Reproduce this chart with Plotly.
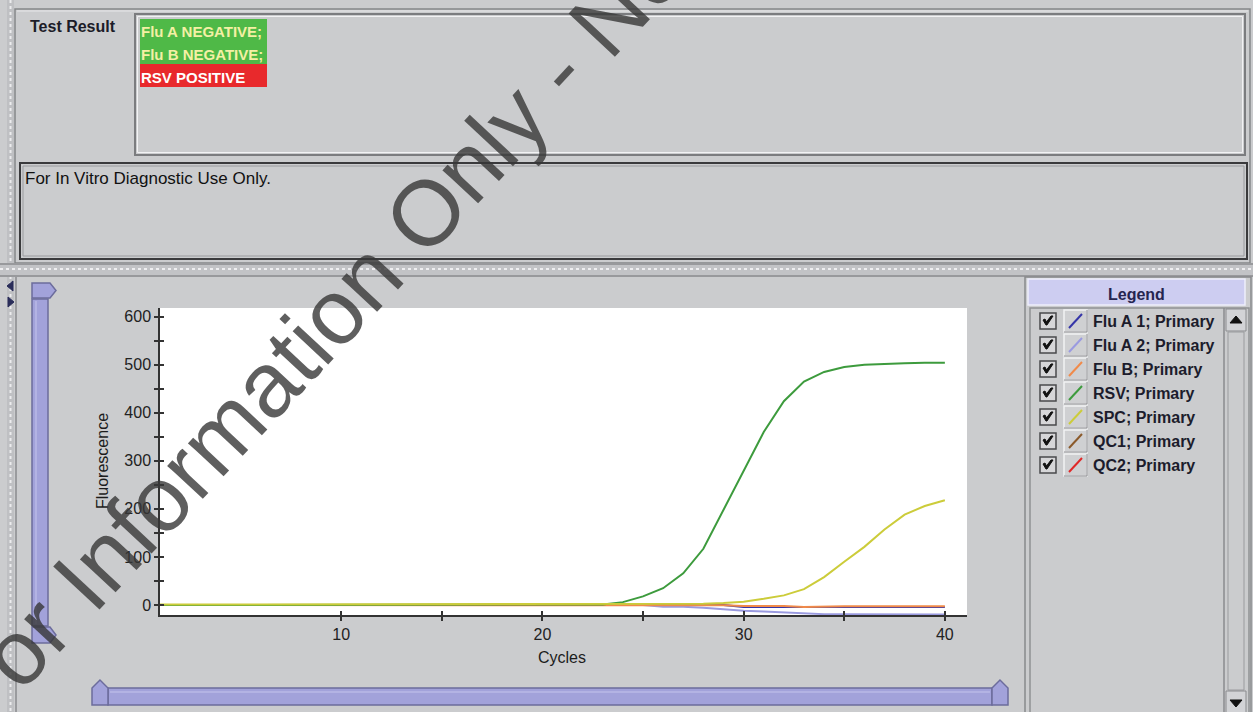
import plotly.graph_objects as go

# ---------------- data ----------------
cycles = list(range(1, 41))

flu_a1 = [0, 0, 0, 0, 0, 0, 0, 0, 0, 0,
          0, 0, 0, 0, 0, 0, 0, 0, 0, 0,
          0, 0, 0, 0, 0, 0, 0, 0, 0, -4,
          -4, -4, -4.5, -4, -4, -4, -4, -4, -4, -4]
flu_a2 = [0, 0, 0, 0, 0, 0, 0, 0, 0, 0,
          0, 0, 0, 0, 0, 0, 0, 0, 0, 0,
          0, 0, 0, 0, 0, -3.5, -3.5, -5.5, -9, -12,
          -13.5, -15, -18, -19, -19, -19, -19, -19.5, -19.5, -19.5]
flu_b = [0, 0, 0, 0, 0, 0, 0, 0, 0, 0,
         0, 0, 0, 0, 0, 0, 0, 0, 0, 0,
         0, 0, 0, 0, 0, 0, 0, -0.5, -0.5, -2,
         -2, -2, -4, -2.5, -2.5, -2.5, -2.5, -2.5, -2.5, -2.5]
rsv = [0, 0, 0, 0, 0, 0, 0, 0, 0, 0,
       0, 0, 0, 0, 0, 0, 0, 0, 0, 0,
       0, 0, 1, 6, 18, 35, 66, 117, 199, 278,
       360, 424, 465, 485, 495, 500, 502, 503, 504, 504]
spc = [1, 1, 1, 1, 1, 1, 1, 1, 1, 1,
       1, 1, 1, 1, 1, 1, 1, 1, 1, 1,
       1, 1, 1, 1, 1, 1, 1, 2.5, 4, 7,
       13, 20, 33, 58, 90, 121, 157, 188, 206, 218]

series_names = ["Flu A 1; Primary", "Flu A 2; Primary", "Flu B; Primary",
                "RSV; Primary", "SPC; Primary", "QC1; Primary", "QC2; Primary"]
series_values = [flu_a1, flu_a2, flu_b, rsv, spc, None, None]
series_colors = ["#3535a8", "#9a9ae0", "#f08a4a", "#3d9b3d", "#cccc3a",
                 "#8b5a2b", "#e02828"]

x_tickvals = [10, 15, 20, 25, 30, 35, 40]
x_ticktext = ["10", "", "20", "", "30", "", "40"]
y_tickvals = [0, 50, 100, 150, 200, 250, 300, 350, 400, 450, 500, 550, 600]
y_ticktext = ["0", "", "100", "", "200", "", "300", "", "400", "", "500", "", "600"]

result_lines = ["Flu A NEGATIVE;", "Flu B NEGATIVE;", "RSV POSITIVE"]
watermark = "For Information Only - Not a Test Report"

# ---------------- layout geometry (pixels) ----------------
FW, FH = 1253, 712
L, R, T, B = 160, 967, 308, 615
W, H = R - L, B - T


def X(px):
    return (px - L) / W


def Y(py):
    return (B - py) / H


FONT = "Liberation Sans, Arial, sans-serif"
BG = "#cbccce"
LAV = "#a2a2da"
LAV_LINE = "#6c6c9c"

shapes = []
annotations = []


def rect(x0, y0, x1, y1, fill=None, line=None, lw=1, dash=None):
    d = dict(type="rect", xref="paper", yref="paper",
             x0=X(x0), x1=X(x1), y0=Y(y0), y1=Y(y1), layer="below",
             fillcolor=fill if fill else "rgba(0,0,0,0)",
             line=dict(color=line if line else "rgba(0,0,0,0)", width=lw if line else 0))
    if dash:
        d["line"]["dash"] = dash
    shapes.append(d)


def seg(x0, y0, x1, y1, color, lw=1, dash=None, layer="below"):
    d = dict(type="line", xref="paper", yref="paper",
             x0=X(x0), x1=X(x1), y0=Y(y0), y1=Y(y1), layer=layer,
             line=dict(color=color, width=lw))
    if dash:
        d["line"]["dash"] = dash
    shapes.append(d)


def poly(pts, fill, line, lw=1, layer="below"):
    p = "M " + " L ".join(f"{X(a):.5f},{Y(b):.5f}" for a, b in pts) + " Z"
    shapes.append(dict(type="path", xref="paper", yref="paper", path=p, layer=layer,
                       fillcolor=fill, line=dict(color=line, width=lw)))


def text(px, py, s, size=14, color="#1a1a24", bold=False, xanchor="left",
         yanchor="middle", angle=0, family=FONT):
    annotations.append(dict(xref="paper", yref="paper", x=X(px), y=Y(py),
                            text=f"<b>{s}</b>" if bold else s, showarrow=False,
                            xanchor=xanchor, yanchor=yanchor, textangle=angle,
                            font=dict(family=family, size=size, color=color)))


# left dotted strip
rect(7, 0, 14, FH, fill="#bfc0c3")
seg(10.5, 0, 10.5, FH, "#ececee", lw=2, dash="dot")

# top panel
rect(15, 9, 1250, 263, line="#858689", lw=1.5)
seg(17, 11, 1248, 11, "#e8e8ea", lw=1)
text(28, 26, "Test Result", size=16, bold=True, color="#1c1c28")

# results box
rect(135, 14, 1245, 155, line="#7b7c7f", lw=2)
rect(137.5, 16.5, 1242.5, 152.5, line="#f2f2f4", lw=1)
rect(140, 19, 267, 64, fill="#4fb947")
rect(140, 64, 267, 87, fill="#e8292c")
text(139, 31, result_lines[0], size=15, bold=True, color="#f4f0a4")
text(139, 54, result_lines[1], size=15, bold=True, color="#f4f0a4")
text(139, 77, result_lines[2], size=15, bold=True, color="#ffffff")

# IVD box
rect(20, 163, 1247, 259, line="#3a3a3c", lw=2)
rect(23, 166, 1244, 256, line="#9a9b9e", lw=1)
text(23, 178, "For In Vitro Diagnostic Use Only.", size=17, color="#111111")

# separator band
rect(0, 263, FW, 277, fill="#c2c3c6")
seg(0, 264, FW, 264, "#8a8b8e", lw=1.5)
seg(0, 269, FW, 269, "#eeeef0", lw=2, dash="dot")
seg(0, 276, FW, 276, "#8a8b8e", lw=1.5)

# lower panel left line
seg(16, 277, 16, FH, "#8a8b8e", lw=1.5)

# small arrows top-left
poly([(7, 286), (13, 281), (13, 291)], "#2a2d5a", "#2a2d5a")
poly([(14, 302), (8, 297), (8, 307)], "#2a2d5a", "#2a2d5a")

# vertical scrollbar (left)
poly([(32, 283), (50, 283), (56, 290.5), (50, 298), (32, 298)], LAV, LAV_LINE, 1.5)
rect(32, 299, 48, 626, fill=LAV, line=LAV_LINE, lw=1.5)
seg(36, 301, 36, 624, "#c4c4ec", lw=1)
poly([(32, 627), (50, 627), (56, 635), (50, 643), (32, 643)], LAV, LAV_LINE, 1.5)

# horizontal scrollbar (bottom)
rect(108, 688, 992, 705, fill=LAV, line=LAV_LINE, lw=1.5)
seg(110, 692, 990, 692, "#c4c4ec", lw=1)
poly([(92, 705), (92, 688), (100, 680), (108, 688), (108, 705)], LAV, LAV_LINE, 1.5)
poly([(992, 705), (992, 688), (1000, 680), (1008, 688), (1008, 705)], LAV, LAV_LINE, 1.5)

# legend panel
rect(1025, 277, 1251, FH + 2, line="#88898c", lw=1.5)
rect(1028, 279, 1245, 305, fill="#cdcdf1", line="#eeeefc", lw=1.5)
text(1136, 294, "Legend", size=16, bold=True, color="#252550", xanchor="center")
rect(1030, 308, 1249, FH + 2, line="#909194", lw=1.5)
seg(1224, 308, 1224, FH, "#8a8b8e", lw=1.5)
# legend scrollbar
rect(1226, 309, 1246, 331, fill="#d2d3d6", line="#8a8b8e", lw=1)
poly([(1230, 323), (1242, 323), (1236, 316)], "#111111", "#111111")
rect(1228, 332, 1244, 690, line="#9a9b9e", lw=1)
rect(1226, 691, 1246, FH + 2, fill="#d2d3d6", line="#8a8b8e", lw=1)
poly([(1230, 700), (1242, 700), (1236, 707)], "#111111", "#111111")

for i, (name, col) in enumerate(zip(series_names, series_colors)):
    cy = 321 + 24 * i
    # checkbox
    rect(1040, cy - 8, 1056, cy + 8, fill="#d6d6d8", line="#4a4a4c", lw=1.5)
    poly([(1043, cy - 1), (1046, cy + 4), (1047, cy + 4), (1053, cy - 5),
          (1051, cy - 5), (1046.5, cy + 1), (1045, cy - 2)], "#111111", "#111111", 1)
    # swatch
    rect(1064, cy - 11, 1087, cy + 11, fill="#cfd0d2", line="#f2f2f4", lw=1.5)
    seg(1064, cy + 11, 1087, cy + 11, "#8a8b8e", lw=1)
    seg(1087, cy - 11, 1087, cy + 11, "#8a8b8e", lw=1)
    seg(1069, cy + 7, 1082, cy - 7, col, lw=2)
    text(1091, cy, name, size=16, bold=True, color="#1c1c2c")

# axis titles
text(102, 461, "Fluorescence", size=16, color="#1c1c1c", xanchor="center", angle=-90)
text(562, 657, "Cycles", size=16, color="#1c1c1c", xanchor="center")

# watermark
annotations.append(dict(xref="paper", yref="paper", x=X(516), y=Y(116),
                        text=watermark, showarrow=False, xanchor="center",
                        yanchor="middle", textangle=-47,
                        font=dict(family=FONT, size=92, color="rgba(55,55,55,0.8)")))

# ---------------- figure ----------------
fig = go.Figure()
for name, vals, col in zip(series_names, series_values, series_colors):
    if vals is None:
        continue
    fig.add_trace(go.Scatter(x=cycles, y=vals, mode="lines", name=name,
                             line=dict(color=col, width=2), hoverinfo="skip"))
# overlay axes to make ticks cross the axis lines
fig.add_trace(go.Scatter(x=[], y=[], xaxis="x2", yaxis="y2", showlegend=False))

axis_font = dict(family=FONT, size=16, color="#222222")
fig.update_layout(
    width=FW, height=FH,
    margin=dict(l=L, r=FW - R, t=T, b=FH - B, pad=0),
    paper_bgcolor=BG, plot_bgcolor="#ffffff",
    showlegend=False,
    xaxis=dict(range=[1, 41.1], tickmode="array", tickvals=x_tickvals, ticktext=x_ticktext,
               ticks="outside", ticklen=4, tickwidth=1.5, tickcolor="#333333",
               showline=True, linecolor="#333333", linewidth=1.5, showgrid=False,
               zeroline=False, tickfont=axis_font, fixedrange=True),
    yaxis=dict(range=[-20.8, 618], tickmode="array", tickvals=y_tickvals, ticktext=y_ticktext,
               ticks="outside", ticklen=4, tickwidth=1.5, tickcolor="#333333",
               showline=True, linecolor="#333333", linewidth=1.5, showgrid=False,
               zeroline=False, tickfont=axis_font, fixedrange=True),
    xaxis2=dict(overlaying="x", anchor="y2", range=[1, 41.1], tickmode="array",
                tickvals=x_tickvals, ticks="inside", ticklen=4, tickwidth=1.5,
                tickcolor="#333333", showticklabels=False, showline=False,
                showgrid=False, zeroline=False, side="bottom", fixedrange=True),
    yaxis2=dict(overlaying="y", anchor="x2", range=[-20.8, 618], tickmode="array",
                tickvals=y_tickvals, ticks="inside", ticklen=4, tickwidth=1.5,
                tickcolor="#333333", showticklabels=False, showline=False,
                showgrid=False, zeroline=False, side="left", fixedrange=True),
    shapes=shapes,
    annotations=annotations,
)

fig.write_html(
    "out.html",
    config={"displayModeBar": False},
    post_script=("document.body.style.margin='0';"
                 "document.body.style.overflow='hidden';"
                 "document.body.style.background='" + BG + "';"),
)
